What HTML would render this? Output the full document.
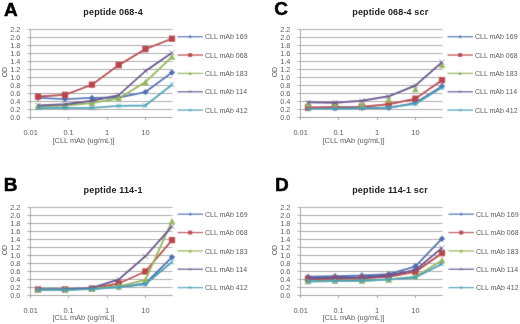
<!DOCTYPE html>
<html><head><meta charset="utf-8"><style>
html,body{margin:0;padding:0;background:#fff;width:520px;height:324px;overflow:hidden}
svg{display:block;font-family:"Liberation Sans",sans-serif;}
#w{width:520px;height:324px;will-change:transform}
</style></head><body>
<div id="w"><svg width="520" height="324" viewBox="0 0 520 324" style="font-family:&quot;Liberation Sans&quot;,sans-serif">
<defs><filter id="bl" x="0" y="0" width="1" height="1"><feConvolveMatrix order="3" kernelMatrix="1 2 1 2 20 2 1 2 1" edgeMode="duplicate"/></filter></defs>
<rect width="520" height="324" fill="#fff"/>
<g filter="url(#bl)">
<rect width="520" height="324" fill="#fff"/>
<g transform="translate(0,0)">
<line x1="27.5" y1="29.5" x2="172.5" y2="29.5" stroke="#a4a4a4" stroke-width="1"/>
<line x1="27.5" y1="37.5" x2="172.5" y2="37.5" stroke="#a4a4a4" stroke-width="1"/>
<line x1="27.5" y1="45.5" x2="172.5" y2="45.5" stroke="#a4a4a4" stroke-width="1"/>
<line x1="27.5" y1="53.5" x2="172.5" y2="53.5" stroke="#a4a4a4" stroke-width="1"/>
<line x1="27.5" y1="61.5" x2="172.5" y2="61.5" stroke="#a4a4a4" stroke-width="1"/>
<line x1="27.5" y1="69.5" x2="172.5" y2="69.5" stroke="#a4a4a4" stroke-width="1"/>
<line x1="27.5" y1="77.5" x2="172.5" y2="77.5" stroke="#a4a4a4" stroke-width="1"/>
<line x1="27.5" y1="85.5" x2="172.5" y2="85.5" stroke="#a4a4a4" stroke-width="1"/>
<line x1="27.5" y1="93.5" x2="172.5" y2="93.5" stroke="#a4a4a4" stroke-width="1"/>
<line x1="27.5" y1="101.5" x2="172.5" y2="101.5" stroke="#a4a4a4" stroke-width="1"/>
<line x1="27.5" y1="109.5" x2="172.5" y2="109.5" stroke="#a4a4a4" stroke-width="1"/>
<line x1="27.5" y1="117.5" x2="172.5" y2="117.5" stroke="#959595" stroke-width="1"/>
<line x1="30.5" y1="29.0" x2="30.5" y2="120.0" stroke="#a0a0a0" stroke-width="1"/>
<line x1="30.5" y1="117.5" x2="30.5" y2="120.0" stroke="#9a9a9a" stroke-width="1"/>
<line x1="68.5" y1="117.5" x2="68.5" y2="120.0" stroke="#9a9a9a" stroke-width="1"/>
<line x1="107.5" y1="117.5" x2="107.5" y2="120.0" stroke="#9a9a9a" stroke-width="1"/>
<line x1="145.5" y1="117.5" x2="145.5" y2="120.0" stroke="#9a9a9a" stroke-width="1"/>
<path d="M38.00 97.90 L65.00 99.10 L91.90 97.90 L118.70 97.50 L145.40 92.10 L172.00 72.50" stroke="#4A70B4" stroke-width="1.9" fill="none" stroke-linejoin="round"/>
<path d="M38.00 94.70L41.20 97.90L38.00 101.10L34.80 97.90Z" fill="#4A70B4"/>
<path d="M65.00 95.90L68.20 99.10L65.00 102.30L61.80 99.10Z" fill="#4A70B4"/>
<path d="M91.90 94.70L95.10 97.90L91.90 101.10L88.70 97.90Z" fill="#4A70B4"/>
<path d="M118.70 94.30L121.90 97.50L118.70 100.70L115.50 97.50Z" fill="#4A70B4"/>
<path d="M145.40 88.90L148.60 92.10L145.40 95.30L142.20 92.10Z" fill="#4A70B4"/>
<path d="M172.00 69.30L175.20 72.50L172.00 75.70L168.80 72.50Z" fill="#4A70B4"/>
<path d="M38.00 96.50 L65.00 94.90 L91.90 84.70 L118.70 65.10 L145.40 49.10 L172.00 38.70" stroke="#BC444C" stroke-width="1.9" fill="none" stroke-linejoin="round"/>
<rect x="34.80" y="93.30" width="6.40" height="6.40" fill="#BC444C"/>
<rect x="61.80" y="91.70" width="6.40" height="6.40" fill="#BC444C"/>
<rect x="88.70" y="81.50" width="6.40" height="6.40" fill="#BC444C"/>
<rect x="115.50" y="61.90" width="6.40" height="6.40" fill="#BC444C"/>
<rect x="142.20" y="45.90" width="6.40" height="6.40" fill="#BC444C"/>
<rect x="168.80" y="35.50" width="6.40" height="6.40" fill="#BC444C"/>
<path d="M38.00 106.30 L65.00 105.50 L91.90 103.10 L118.70 98.30 L145.40 82.10 L172.00 56.70" stroke="#97B855" stroke-width="1.9" fill="none" stroke-linejoin="round"/>
<path d="M38.00 102.83L41.30 109.44L34.70 109.44Z" fill="#97B855"/>
<path d="M65.00 102.03L68.30 108.64L61.70 108.64Z" fill="#97B855"/>
<path d="M91.90 99.64L95.20 106.24L88.60 106.24Z" fill="#97B855"/>
<path d="M118.70 94.83L122.00 101.44L115.40 101.44Z" fill="#97B855"/>
<path d="M145.40 78.63L148.70 85.23L142.10 85.23Z" fill="#97B855"/>
<path d="M172.00 53.23L175.30 59.84L168.70 59.84Z" fill="#97B855"/>
<path d="M38.00 105.50 L65.00 104.30 L91.90 100.70 L118.70 95.10 L145.40 71.10 L172.00 52.70" stroke="#67528F" stroke-width="1.9" fill="none" stroke-linejoin="round"/>
<path d="M35.40 102.90L40.60 108.10M40.60 102.90L35.40 108.10" stroke="#67528F" stroke-width="0.8" fill="none" opacity="0.8"/>
<path d="M62.40 101.70L67.60 106.90M67.60 101.70L62.40 106.90" stroke="#67528F" stroke-width="0.8" fill="none" opacity="0.8"/>
<path d="M89.30 98.10L94.50 103.30M94.50 98.10L89.30 103.30" stroke="#67528F" stroke-width="0.8" fill="none" opacity="0.8"/>
<path d="M116.10 92.50L121.30 97.70M121.30 92.50L116.10 97.70" stroke="#67528F" stroke-width="0.8" fill="none" opacity="0.8"/>
<path d="M142.80 68.50L148.00 73.70M148.00 68.50L142.80 73.70" stroke="#67528F" stroke-width="0.8" fill="none" opacity="0.8"/>
<path d="M169.40 50.10L174.60 55.30M174.60 50.10L169.40 55.30" stroke="#67528F" stroke-width="0.8" fill="none" opacity="0.8"/>
<path d="M38.00 108.10 L65.00 107.90 L91.90 107.90 L118.70 105.90 L145.40 105.50 L172.00 84.70" stroke="#42A2BA" stroke-width="1.9" fill="none" stroke-linejoin="round"/>
<path d="M35.40 105.50L40.60 110.70M40.60 105.50L35.40 110.70M38.00 105.50L38.00 110.70" stroke="#42A2BA" stroke-width="0.8" fill="none" opacity="0.8"/>
<path d="M62.40 105.30L67.60 110.50M67.60 105.30L62.40 110.50M65.00 105.30L65.00 110.50" stroke="#42A2BA" stroke-width="0.8" fill="none" opacity="0.8"/>
<path d="M89.30 105.30L94.50 110.50M94.50 105.30L89.30 110.50M91.90 105.30L91.90 110.50" stroke="#42A2BA" stroke-width="0.8" fill="none" opacity="0.8"/>
<path d="M116.10 103.30L121.30 108.50M121.30 103.30L116.10 108.50M118.70 103.30L118.70 108.50" stroke="#42A2BA" stroke-width="0.8" fill="none" opacity="0.8"/>
<path d="M142.80 102.90L148.00 108.10M148.00 102.90L142.80 108.10M145.40 102.90L145.40 108.10" stroke="#42A2BA" stroke-width="0.8" fill="none" opacity="0.8"/>
<path d="M169.40 82.10L174.60 87.30M174.60 82.10L169.40 87.30M172.00 82.10L172.00 87.30" stroke="#42A2BA" stroke-width="0.8" fill="none" opacity="0.8"/>
<line x1="177.5" y1="36.70" x2="203" y2="36.70" stroke="#4A70B4" stroke-width="1.3"/>
<path d="M190.20 34.94L191.96 36.70L190.20 38.46L188.44 36.70Z" fill="#4A70B4"/>
<line x1="177.5" y1="55.05" x2="203" y2="55.05" stroke="#BC444C" stroke-width="1.3"/>
<rect x="188.22" y="53.07" width="3.97" height="3.97" fill="#BC444C"/>
<line x1="177.5" y1="73.40" x2="203" y2="73.40" stroke="#97B855" stroke-width="1.3"/>
<path d="M190.20 71.49L192.01 75.12L188.38 75.12Z" fill="#97B855"/>
<line x1="177.5" y1="91.75" x2="203" y2="91.75" stroke="#67528F" stroke-width="1.3"/>
<path d="M188.90 90.45L191.50 93.05M191.50 90.45L188.90 93.05" stroke="#67528F" stroke-width="0.8" fill="none" opacity="0.8"/>
<line x1="177.5" y1="110.10" x2="203" y2="110.10" stroke="#42A2BA" stroke-width="1.3"/>
<path d="M188.90 108.80L191.50 111.40M191.50 108.80L188.90 111.40M190.20 108.80L190.20 111.40" stroke="#42A2BA" stroke-width="0.8" fill="none" opacity="0.8"/>
</g>
<g transform="translate(270,0)">
<line x1="27.5" y1="29.5" x2="172.5" y2="29.5" stroke="#a4a4a4" stroke-width="1"/>
<line x1="27.5" y1="37.5" x2="172.5" y2="37.5" stroke="#a4a4a4" stroke-width="1"/>
<line x1="27.5" y1="45.5" x2="172.5" y2="45.5" stroke="#a4a4a4" stroke-width="1"/>
<line x1="27.5" y1="53.5" x2="172.5" y2="53.5" stroke="#a4a4a4" stroke-width="1"/>
<line x1="27.5" y1="61.5" x2="172.5" y2="61.5" stroke="#a4a4a4" stroke-width="1"/>
<line x1="27.5" y1="69.5" x2="172.5" y2="69.5" stroke="#a4a4a4" stroke-width="1"/>
<line x1="27.5" y1="77.5" x2="172.5" y2="77.5" stroke="#a4a4a4" stroke-width="1"/>
<line x1="27.5" y1="85.5" x2="172.5" y2="85.5" stroke="#a4a4a4" stroke-width="1"/>
<line x1="27.5" y1="93.5" x2="172.5" y2="93.5" stroke="#a4a4a4" stroke-width="1"/>
<line x1="27.5" y1="101.5" x2="172.5" y2="101.5" stroke="#a4a4a4" stroke-width="1"/>
<line x1="27.5" y1="109.5" x2="172.5" y2="109.5" stroke="#a4a4a4" stroke-width="1"/>
<line x1="27.5" y1="117.5" x2="172.5" y2="117.5" stroke="#959595" stroke-width="1"/>
<line x1="30.5" y1="29.0" x2="30.5" y2="120.0" stroke="#a0a0a0" stroke-width="1"/>
<line x1="30.5" y1="117.5" x2="30.5" y2="120.0" stroke="#9a9a9a" stroke-width="1"/>
<line x1="68.5" y1="117.5" x2="68.5" y2="120.0" stroke="#9a9a9a" stroke-width="1"/>
<line x1="107.5" y1="117.5" x2="107.5" y2="120.0" stroke="#9a9a9a" stroke-width="1"/>
<line x1="145.5" y1="117.5" x2="145.5" y2="120.0" stroke="#9a9a9a" stroke-width="1"/>
<path d="M38.00 108.30 L65.00 108.10 L91.90 107.90 L118.70 107.90 L145.40 102.90 L172.00 86.30" stroke="#4A70B4" stroke-width="1.9" fill="none" stroke-linejoin="round"/>
<path d="M38.00 105.10L41.20 108.30L38.00 111.50L34.80 108.30Z" fill="#4A70B4"/>
<path d="M65.00 104.90L68.20 108.10L65.00 111.30L61.80 108.10Z" fill="#4A70B4"/>
<path d="M91.90 104.70L95.10 107.90L91.90 111.10L88.70 107.90Z" fill="#4A70B4"/>
<path d="M118.70 104.70L121.90 107.90L118.70 111.10L115.50 107.90Z" fill="#4A70B4"/>
<path d="M145.40 99.70L148.60 102.90L145.40 106.10L142.20 102.90Z" fill="#4A70B4"/>
<path d="M172.00 83.10L175.20 86.30L172.00 89.50L168.80 86.30Z" fill="#4A70B4"/>
<path d="M38.00 107.50 L65.00 106.90 L91.90 106.70 L118.70 104.30 L145.40 98.70 L172.00 80.10" stroke="#BC444C" stroke-width="1.9" fill="none" stroke-linejoin="round"/>
<rect x="34.80" y="104.30" width="6.40" height="6.40" fill="#BC444C"/>
<rect x="61.80" y="103.70" width="6.40" height="6.40" fill="#BC444C"/>
<rect x="88.70" y="103.50" width="6.40" height="6.40" fill="#BC444C"/>
<rect x="115.50" y="101.10" width="6.40" height="6.40" fill="#BC444C"/>
<rect x="142.20" y="95.50" width="6.40" height="6.40" fill="#BC444C"/>
<rect x="168.80" y="76.90" width="6.40" height="6.40" fill="#BC444C"/>
<path d="M38.00 100.03L41.30 106.64L34.70 106.64Z" fill="#97B855"/>
<path d="M65.00 100.03L68.30 106.64L61.70 106.64Z" fill="#97B855"/>
<path d="M91.90 100.83L95.20 107.44L88.60 107.44Z" fill="#97B855"/>
<path d="M118.70 96.03L122.00 102.64L115.40 102.64Z" fill="#97B855"/>
<path d="M145.40 85.64L148.70 92.24L142.10 92.24Z" fill="#97B855"/>
<path d="M172.00 61.63L175.30 68.23L168.70 68.23Z" fill="#97B855"/>
<path d="M38.00 102.30 L65.00 102.70 L91.90 100.70 L118.70 96.30 L145.40 85.50 L172.00 62.30" stroke="#67528F" stroke-width="1.9" fill="none" stroke-linejoin="round"/>
<path d="M35.40 99.70L40.60 104.90M40.60 99.70L35.40 104.90" stroke="#67528F" stroke-width="0.8" fill="none" opacity="0.8"/>
<path d="M62.40 100.10L67.60 105.30M67.60 100.10L62.40 105.30" stroke="#67528F" stroke-width="0.8" fill="none" opacity="0.8"/>
<path d="M89.30 98.10L94.50 103.30M94.50 98.10L89.30 103.30" stroke="#67528F" stroke-width="0.8" fill="none" opacity="0.8"/>
<path d="M116.10 93.70L121.30 98.90M121.30 93.70L116.10 98.90" stroke="#67528F" stroke-width="0.8" fill="none" opacity="0.8"/>
<path d="M142.80 82.90L148.00 88.10M148.00 82.90L142.80 88.10" stroke="#67528F" stroke-width="0.8" fill="none" opacity="0.8"/>
<path d="M169.40 59.70L174.60 64.90M174.60 59.70L169.40 64.90" stroke="#67528F" stroke-width="0.8" fill="none" opacity="0.8"/>
<path d="M38.00 108.90 L65.00 108.70 L91.90 108.30 L118.70 107.50 L145.40 103.90 L172.00 87.50" stroke="#42A2BA" stroke-width="1.9" fill="none" stroke-linejoin="round"/>
<path d="M35.40 106.30L40.60 111.50M40.60 106.30L35.40 111.50M38.00 106.30L38.00 111.50" stroke="#42A2BA" stroke-width="0.8" fill="none" opacity="0.8"/>
<path d="M62.40 106.10L67.60 111.30M67.60 106.10L62.40 111.30M65.00 106.10L65.00 111.30" stroke="#42A2BA" stroke-width="0.8" fill="none" opacity="0.8"/>
<path d="M89.30 105.70L94.50 110.90M94.50 105.70L89.30 110.90M91.90 105.70L91.90 110.90" stroke="#42A2BA" stroke-width="0.8" fill="none" opacity="0.8"/>
<path d="M116.10 104.90L121.30 110.10M121.30 104.90L116.10 110.10M118.70 104.90L118.70 110.10" stroke="#42A2BA" stroke-width="0.8" fill="none" opacity="0.8"/>
<path d="M142.80 101.30L148.00 106.50M148.00 101.30L142.80 106.50M145.40 101.30L145.40 106.50" stroke="#42A2BA" stroke-width="0.8" fill="none" opacity="0.8"/>
<path d="M169.40 84.90L174.60 90.10M174.60 84.90L169.40 90.10M172.00 84.90L172.00 90.10" stroke="#42A2BA" stroke-width="0.8" fill="none" opacity="0.8"/>
<line x1="177.5" y1="36.70" x2="203" y2="36.70" stroke="#4A70B4" stroke-width="1.3"/>
<path d="M190.20 34.94L191.96 36.70L190.20 38.46L188.44 36.70Z" fill="#4A70B4"/>
<line x1="177.5" y1="55.05" x2="203" y2="55.05" stroke="#BC444C" stroke-width="1.3"/>
<rect x="188.22" y="53.07" width="3.97" height="3.97" fill="#BC444C"/>
<line x1="177.5" y1="73.40" x2="203" y2="73.40" stroke="#97B855" stroke-width="1.3"/>
<path d="M190.20 71.49L192.01 75.12L188.38 75.12Z" fill="#97B855"/>
<line x1="177.5" y1="91.75" x2="203" y2="91.75" stroke="#67528F" stroke-width="1.3"/>
<path d="M188.90 90.45L191.50 93.05M191.50 90.45L188.90 93.05" stroke="#67528F" stroke-width="0.8" fill="none" opacity="0.8"/>
<line x1="177.5" y1="110.10" x2="203" y2="110.10" stroke="#42A2BA" stroke-width="1.3"/>
<path d="M188.90 108.80L191.50 111.40M191.50 108.80L188.90 111.40M190.20 108.80L190.20 111.40" stroke="#42A2BA" stroke-width="0.8" fill="none" opacity="0.8"/>
</g>
<g transform="translate(0,178)">
<line x1="27.5" y1="29.5" x2="172.5" y2="29.5" stroke="#a4a4a4" stroke-width="1"/>
<line x1="27.5" y1="37.5" x2="172.5" y2="37.5" stroke="#a4a4a4" stroke-width="1"/>
<line x1="27.5" y1="45.5" x2="172.5" y2="45.5" stroke="#a4a4a4" stroke-width="1"/>
<line x1="27.5" y1="53.5" x2="172.5" y2="53.5" stroke="#a4a4a4" stroke-width="1"/>
<line x1="27.5" y1="61.5" x2="172.5" y2="61.5" stroke="#a4a4a4" stroke-width="1"/>
<line x1="27.5" y1="69.5" x2="172.5" y2="69.5" stroke="#a4a4a4" stroke-width="1"/>
<line x1="27.5" y1="77.5" x2="172.5" y2="77.5" stroke="#a4a4a4" stroke-width="1"/>
<line x1="27.5" y1="85.5" x2="172.5" y2="85.5" stroke="#a4a4a4" stroke-width="1"/>
<line x1="27.5" y1="93.5" x2="172.5" y2="93.5" stroke="#a4a4a4" stroke-width="1"/>
<line x1="27.5" y1="101.5" x2="172.5" y2="101.5" stroke="#a4a4a4" stroke-width="1"/>
<line x1="27.5" y1="109.5" x2="172.5" y2="109.5" stroke="#a4a4a4" stroke-width="1"/>
<line x1="27.5" y1="117.5" x2="172.5" y2="117.5" stroke="#959595" stroke-width="1"/>
<line x1="30.5" y1="29.0" x2="30.5" y2="120.0" stroke="#a0a0a0" stroke-width="1"/>
<line x1="30.5" y1="117.5" x2="30.5" y2="120.0" stroke="#9a9a9a" stroke-width="1"/>
<line x1="68.5" y1="117.5" x2="68.5" y2="120.0" stroke="#9a9a9a" stroke-width="1"/>
<line x1="107.5" y1="117.5" x2="107.5" y2="120.0" stroke="#9a9a9a" stroke-width="1"/>
<line x1="145.5" y1="117.5" x2="145.5" y2="120.0" stroke="#9a9a9a" stroke-width="1"/>
<path d="M38.00 111.50 L65.00 111.50 L91.90 110.70 L118.70 109.10 L145.40 105.50 L172.00 79.10" stroke="#4A70B4" stroke-width="1.9" fill="none" stroke-linejoin="round"/>
<path d="M38.00 108.30L41.20 111.50L38.00 114.70L34.80 111.50Z" fill="#4A70B4"/>
<path d="M65.00 108.30L68.20 111.50L65.00 114.70L61.80 111.50Z" fill="#4A70B4"/>
<path d="M91.90 107.50L95.10 110.70L91.90 113.90L88.70 110.70Z" fill="#4A70B4"/>
<path d="M118.70 105.90L121.90 109.10L118.70 112.30L115.50 109.10Z" fill="#4A70B4"/>
<path d="M145.40 102.30L148.60 105.50L145.40 108.70L142.20 105.50Z" fill="#4A70B4"/>
<path d="M172.00 75.90L175.20 79.10L172.00 82.30L168.80 79.10Z" fill="#4A70B4"/>
<path d="M38.00 111.50 L65.00 111.50 L91.90 110.50 L118.70 105.50 L145.40 93.50 L172.00 62.10" stroke="#BC444C" stroke-width="1.9" fill="none" stroke-linejoin="round"/>
<rect x="34.80" y="108.30" width="6.40" height="6.40" fill="#BC444C"/>
<rect x="61.80" y="108.30" width="6.40" height="6.40" fill="#BC444C"/>
<rect x="88.70" y="107.30" width="6.40" height="6.40" fill="#BC444C"/>
<rect x="115.50" y="102.30" width="6.40" height="6.40" fill="#BC444C"/>
<rect x="142.20" y="90.30" width="6.40" height="6.40" fill="#BC444C"/>
<rect x="168.80" y="58.90" width="6.40" height="6.40" fill="#BC444C"/>
<path d="M38.00 111.70 L65.00 111.50 L91.90 110.70 L118.70 108.30 L145.40 101.90 L172.00 43.10" stroke="#97B855" stroke-width="1.9" fill="none" stroke-linejoin="round"/>
<path d="M38.00 108.23L41.30 114.84L34.70 114.84Z" fill="#97B855"/>
<path d="M65.00 108.03L68.30 114.64L61.70 114.64Z" fill="#97B855"/>
<path d="M91.90 107.23L95.20 113.84L88.60 113.84Z" fill="#97B855"/>
<path d="M118.70 104.83L122.00 111.44L115.40 111.44Z" fill="#97B855"/>
<path d="M145.40 98.43L148.70 105.03L142.10 105.03Z" fill="#97B855"/>
<path d="M172.00 39.64L175.30 46.23L168.70 46.23Z" fill="#97B855"/>
<path d="M38.00 111.50 L65.00 111.10 L91.90 109.90 L118.70 101.50 L145.40 78.30 L172.00 48.30" stroke="#67528F" stroke-width="1.9" fill="none" stroke-linejoin="round"/>
<path d="M35.40 108.90L40.60 114.10M40.60 108.90L35.40 114.10" stroke="#67528F" stroke-width="0.8" fill="none" opacity="0.8"/>
<path d="M62.40 108.50L67.60 113.70M67.60 108.50L62.40 113.70" stroke="#67528F" stroke-width="0.8" fill="none" opacity="0.8"/>
<path d="M89.30 107.30L94.50 112.50M94.50 107.30L89.30 112.50" stroke="#67528F" stroke-width="0.8" fill="none" opacity="0.8"/>
<path d="M116.10 98.90L121.30 104.10M121.30 98.90L116.10 104.10" stroke="#67528F" stroke-width="0.8" fill="none" opacity="0.8"/>
<path d="M142.80 75.70L148.00 80.90M148.00 75.70L142.80 80.90" stroke="#67528F" stroke-width="0.8" fill="none" opacity="0.8"/>
<path d="M169.40 45.70L174.60 50.90M174.60 45.70L169.40 50.90" stroke="#67528F" stroke-width="0.8" fill="none" opacity="0.8"/>
<path d="M38.00 111.70 L65.00 111.70 L91.90 111.10 L118.70 109.10 L145.40 106.30 L172.00 83.90" stroke="#42A2BA" stroke-width="1.9" fill="none" stroke-linejoin="round"/>
<path d="M35.40 109.10L40.60 114.30M40.60 109.10L35.40 114.30M38.00 109.10L38.00 114.30" stroke="#42A2BA" stroke-width="0.8" fill="none" opacity="0.8"/>
<path d="M62.40 109.10L67.60 114.30M67.60 109.10L62.40 114.30M65.00 109.10L65.00 114.30" stroke="#42A2BA" stroke-width="0.8" fill="none" opacity="0.8"/>
<path d="M89.30 108.50L94.50 113.70M94.50 108.50L89.30 113.70M91.90 108.50L91.90 113.70" stroke="#42A2BA" stroke-width="0.8" fill="none" opacity="0.8"/>
<path d="M116.10 106.50L121.30 111.70M121.30 106.50L116.10 111.70M118.70 106.50L118.70 111.70" stroke="#42A2BA" stroke-width="0.8" fill="none" opacity="0.8"/>
<path d="M142.80 103.70L148.00 108.90M148.00 103.70L142.80 108.90M145.40 103.70L145.40 108.90" stroke="#42A2BA" stroke-width="0.8" fill="none" opacity="0.8"/>
<path d="M169.40 81.30L174.60 86.50M174.60 81.30L169.40 86.50M172.00 81.30L172.00 86.50" stroke="#42A2BA" stroke-width="0.8" fill="none" opacity="0.8"/>
<line x1="177.5" y1="36.20" x2="203" y2="36.20" stroke="#4A70B4" stroke-width="1.3"/>
<path d="M190.20 34.44L191.96 36.20L190.20 37.96L188.44 36.20Z" fill="#4A70B4"/>
<line x1="177.5" y1="54.55" x2="203" y2="54.55" stroke="#BC444C" stroke-width="1.3"/>
<rect x="188.22" y="52.57" width="3.97" height="3.97" fill="#BC444C"/>
<line x1="177.5" y1="72.90" x2="203" y2="72.90" stroke="#97B855" stroke-width="1.3"/>
<path d="M190.20 70.99L192.01 74.62L188.38 74.62Z" fill="#97B855"/>
<line x1="177.5" y1="91.25" x2="203" y2="91.25" stroke="#67528F" stroke-width="1.3"/>
<path d="M188.90 89.95L191.50 92.55M191.50 89.95L188.90 92.55" stroke="#67528F" stroke-width="0.8" fill="none" opacity="0.8"/>
<line x1="177.5" y1="109.60" x2="203" y2="109.60" stroke="#42A2BA" stroke-width="1.3"/>
<path d="M188.90 108.30L191.50 110.90M191.50 108.30L188.90 110.90M190.20 108.30L190.20 110.90" stroke="#42A2BA" stroke-width="0.8" fill="none" opacity="0.8"/>
</g>
<g transform="translate(270,178)">
<line x1="27.5" y1="29.5" x2="172.5" y2="29.5" stroke="#a4a4a4" stroke-width="1"/>
<line x1="27.5" y1="37.5" x2="172.5" y2="37.5" stroke="#a4a4a4" stroke-width="1"/>
<line x1="27.5" y1="45.5" x2="172.5" y2="45.5" stroke="#a4a4a4" stroke-width="1"/>
<line x1="27.5" y1="53.5" x2="172.5" y2="53.5" stroke="#a4a4a4" stroke-width="1"/>
<line x1="27.5" y1="61.5" x2="172.5" y2="61.5" stroke="#a4a4a4" stroke-width="1"/>
<line x1="27.5" y1="69.5" x2="172.5" y2="69.5" stroke="#a4a4a4" stroke-width="1"/>
<line x1="27.5" y1="77.5" x2="172.5" y2="77.5" stroke="#a4a4a4" stroke-width="1"/>
<line x1="27.5" y1="85.5" x2="172.5" y2="85.5" stroke="#a4a4a4" stroke-width="1"/>
<line x1="27.5" y1="93.5" x2="172.5" y2="93.5" stroke="#a4a4a4" stroke-width="1"/>
<line x1="27.5" y1="101.5" x2="172.5" y2="101.5" stroke="#a4a4a4" stroke-width="1"/>
<line x1="27.5" y1="109.5" x2="172.5" y2="109.5" stroke="#a4a4a4" stroke-width="1"/>
<line x1="27.5" y1="117.5" x2="172.5" y2="117.5" stroke="#959595" stroke-width="1"/>
<line x1="30.5" y1="29.0" x2="30.5" y2="120.0" stroke="#a0a0a0" stroke-width="1"/>
<line x1="30.5" y1="117.5" x2="30.5" y2="120.0" stroke="#9a9a9a" stroke-width="1"/>
<line x1="68.5" y1="117.5" x2="68.5" y2="120.0" stroke="#9a9a9a" stroke-width="1"/>
<line x1="107.5" y1="117.5" x2="107.5" y2="120.0" stroke="#9a9a9a" stroke-width="1"/>
<line x1="145.5" y1="117.5" x2="145.5" y2="120.0" stroke="#9a9a9a" stroke-width="1"/>
<path d="M38.00 98.70 L65.00 98.30 L91.90 97.50 L118.70 96.10 L145.40 88.30 L172.00 60.70" stroke="#4A70B4" stroke-width="1.9" fill="none" stroke-linejoin="round"/>
<path d="M38.00 95.50L41.20 98.70L38.00 101.90L34.80 98.70Z" fill="#4A70B4"/>
<path d="M65.00 95.10L68.20 98.30L65.00 101.50L61.80 98.30Z" fill="#4A70B4"/>
<path d="M91.90 94.30L95.10 97.50L91.90 100.70L88.70 97.50Z" fill="#4A70B4"/>
<path d="M118.70 92.90L121.90 96.10L118.70 99.30L115.50 96.10Z" fill="#4A70B4"/>
<path d="M145.40 85.10L148.60 88.30L145.40 91.50L142.20 88.30Z" fill="#4A70B4"/>
<path d="M172.00 57.50L175.20 60.70L172.00 63.90L168.80 60.70Z" fill="#4A70B4"/>
<path d="M38.00 101.10 L65.00 100.70 L91.90 100.30 L118.70 98.70 L145.40 93.90 L172.00 75.10" stroke="#BC444C" stroke-width="1.9" fill="none" stroke-linejoin="round"/>
<rect x="34.80" y="97.90" width="6.40" height="6.40" fill="#BC444C"/>
<rect x="61.80" y="97.50" width="6.40" height="6.40" fill="#BC444C"/>
<rect x="88.70" y="97.10" width="6.40" height="6.40" fill="#BC444C"/>
<rect x="115.50" y="95.50" width="6.40" height="6.40" fill="#BC444C"/>
<rect x="142.20" y="90.70" width="6.40" height="6.40" fill="#BC444C"/>
<rect x="168.80" y="71.90" width="6.40" height="6.40" fill="#BC444C"/>
<path d="M38.00 103.10 L65.00 102.70 L91.90 102.70 L118.70 101.50 L145.40 98.70 L172.00 82.30" stroke="#97B855" stroke-width="1.9" fill="none" stroke-linejoin="round"/>
<path d="M38.00 99.64L41.30 106.24L34.70 106.24Z" fill="#97B855"/>
<path d="M65.00 99.23L68.30 105.84L61.70 105.84Z" fill="#97B855"/>
<path d="M91.90 99.23L95.20 105.84L88.60 105.84Z" fill="#97B855"/>
<path d="M118.70 98.03L122.00 104.64L115.40 104.64Z" fill="#97B855"/>
<path d="M145.40 95.23L148.70 101.84L142.10 101.84Z" fill="#97B855"/>
<path d="M172.00 78.84L175.30 85.44L168.70 85.44Z" fill="#97B855"/>
<path d="M38.00 100.30 L65.00 99.90 L91.90 99.50 L118.70 97.50 L145.40 91.90 L172.00 69.90" stroke="#67528F" stroke-width="1.9" fill="none" stroke-linejoin="round"/>
<path d="M35.40 97.70L40.60 102.90M40.60 97.70L35.40 102.90" stroke="#67528F" stroke-width="0.8" fill="none" opacity="0.8"/>
<path d="M62.40 97.30L67.60 102.50M67.60 97.30L62.40 102.50" stroke="#67528F" stroke-width="0.8" fill="none" opacity="0.8"/>
<path d="M89.30 96.90L94.50 102.10M94.50 96.90L89.30 102.10" stroke="#67528F" stroke-width="0.8" fill="none" opacity="0.8"/>
<path d="M116.10 94.90L121.30 100.10M121.30 94.90L116.10 100.10" stroke="#67528F" stroke-width="0.8" fill="none" opacity="0.8"/>
<path d="M142.80 89.30L148.00 94.50M148.00 89.30L142.80 94.50" stroke="#67528F" stroke-width="0.8" fill="none" opacity="0.8"/>
<path d="M169.40 67.30L174.60 72.50M174.60 67.30L169.40 72.50" stroke="#67528F" stroke-width="0.8" fill="none" opacity="0.8"/>
<path d="M38.00 103.50 L65.00 103.10 L91.90 102.70 L118.70 101.50 L145.40 99.50 L172.00 85.90" stroke="#42A2BA" stroke-width="1.9" fill="none" stroke-linejoin="round"/>
<path d="M35.40 100.90L40.60 106.10M40.60 100.90L35.40 106.10M38.00 100.90L38.00 106.10" stroke="#42A2BA" stroke-width="0.8" fill="none" opacity="0.8"/>
<path d="M62.40 100.50L67.60 105.70M67.60 100.50L62.40 105.70M65.00 100.50L65.00 105.70" stroke="#42A2BA" stroke-width="0.8" fill="none" opacity="0.8"/>
<path d="M89.30 100.10L94.50 105.30M94.50 100.10L89.30 105.30M91.90 100.10L91.90 105.30" stroke="#42A2BA" stroke-width="0.8" fill="none" opacity="0.8"/>
<path d="M116.10 98.90L121.30 104.10M121.30 98.90L116.10 104.10M118.70 98.90L118.70 104.10" stroke="#42A2BA" stroke-width="0.8" fill="none" opacity="0.8"/>
<path d="M142.80 96.90L148.00 102.10M148.00 96.90L142.80 102.10M145.40 96.90L145.40 102.10" stroke="#42A2BA" stroke-width="0.8" fill="none" opacity="0.8"/>
<path d="M169.40 83.30L174.60 88.50M174.60 83.30L169.40 88.50M172.00 83.30L172.00 88.50" stroke="#42A2BA" stroke-width="0.8" fill="none" opacity="0.8"/>
<line x1="178.5" y1="36.20" x2="204" y2="36.20" stroke="#4A70B4" stroke-width="1.3"/>
<path d="M191.20 34.44L192.96 36.20L191.20 37.96L189.44 36.20Z" fill="#4A70B4"/>
<line x1="178.5" y1="54.55" x2="204" y2="54.55" stroke="#BC444C" stroke-width="1.3"/>
<rect x="189.22" y="52.57" width="3.97" height="3.97" fill="#BC444C"/>
<line x1="178.5" y1="72.90" x2="204" y2="72.90" stroke="#97B855" stroke-width="1.3"/>
<path d="M191.20 70.99L193.01 74.62L189.38 74.62Z" fill="#97B855"/>
<line x1="178.5" y1="91.25" x2="204" y2="91.25" stroke="#67528F" stroke-width="1.3"/>
<path d="M189.90 89.95L192.50 92.55M192.50 89.95L189.90 92.55" stroke="#67528F" stroke-width="0.8" fill="none" opacity="0.8"/>
<line x1="178.5" y1="109.60" x2="204" y2="109.60" stroke="#42A2BA" stroke-width="1.3"/>
<path d="M189.90 108.30L192.50 110.90M192.50 108.30L189.90 110.90M191.20 108.30L191.20 110.90" stroke="#42A2BA" stroke-width="0.8" fill="none" opacity="0.8"/>
</g>
</g>
<g transform="translate(0,0)">
<text x="20.3" y="32.1" text-anchor="end" font-size="7.3" fill="#5c5c5c">2.2</text>
<text x="20.3" y="40.1" text-anchor="end" font-size="7.3" fill="#5c5c5c">2.0</text>
<text x="20.3" y="48.1" text-anchor="end" font-size="7.3" fill="#5c5c5c">1.8</text>
<text x="20.3" y="56.1" text-anchor="end" font-size="7.3" fill="#5c5c5c">1.6</text>
<text x="20.3" y="64.1" text-anchor="end" font-size="7.3" fill="#5c5c5c">1.4</text>
<text x="20.3" y="72.1" text-anchor="end" font-size="7.3" fill="#5c5c5c">1.2</text>
<text x="20.3" y="80.1" text-anchor="end" font-size="7.3" fill="#5c5c5c">1.0</text>
<text x="20.3" y="88.1" text-anchor="end" font-size="7.3" fill="#5c5c5c">0.8</text>
<text x="20.3" y="96.1" text-anchor="end" font-size="7.3" fill="#5c5c5c">0.6</text>
<text x="20.3" y="104.1" text-anchor="end" font-size="7.3" fill="#5c5c5c">0.4</text>
<text x="20.3" y="112.1" text-anchor="end" font-size="7.3" fill="#5c5c5c">0.2</text>
<text x="20.3" y="120.1" text-anchor="end" font-size="7.3" fill="#5c5c5c">0.0</text>
<text transform="translate(7.3,72.1) rotate(-90)" text-anchor="middle" font-size="6.9" fill="#5c5c5c">OD</text>
<text x="30.6" y="135.4" text-anchor="middle" font-size="7.4" fill="#5c5c5c">0.01</text>
<text x="68.6" y="135.4" text-anchor="middle" font-size="7.4" fill="#5c5c5c">0.1</text>
<text x="107.0" y="135.4" text-anchor="middle" font-size="7.4" fill="#5c5c5c">1</text>
<text x="145.4" y="135.4" text-anchor="middle" font-size="7.4" fill="#5c5c5c">10</text>
<text x="83.6" y="142.7" text-anchor="middle" font-size="7.4" fill="#5c5c5c">[CLL mAb (ug/mL)]</text>
<text x="113.1" y="15.25" text-anchor="middle" font-size="9" letter-spacing="0.15" font-weight="bold" fill="#222">peptide 068-4</text>
<text x="205" y="39.30" font-size="7" fill="#5a5a5a">CLL mAb 169</text>
<text x="205" y="57.65" font-size="7" fill="#5a5a5a">CLL mAb 068</text>
<text x="205" y="76.00" font-size="7" fill="#5a5a5a">CLL mAb 183</text>
<text x="205" y="94.35" font-size="7" fill="#5a5a5a">CLL mAb 114</text>
<text x="205" y="112.70" font-size="7" fill="#5a5a5a">CLL mAb 412</text>
</g>
<text x="4" y="16.3" font-size="19" font-weight="bold" fill="#000" stroke="#000" stroke-width="0.5">A</text>
<g transform="translate(270,0)">
<text x="20.3" y="32.1" text-anchor="end" font-size="7.3" fill="#5c5c5c">2.2</text>
<text x="20.3" y="40.1" text-anchor="end" font-size="7.3" fill="#5c5c5c">2.0</text>
<text x="20.3" y="48.1" text-anchor="end" font-size="7.3" fill="#5c5c5c">1.8</text>
<text x="20.3" y="56.1" text-anchor="end" font-size="7.3" fill="#5c5c5c">1.6</text>
<text x="20.3" y="64.1" text-anchor="end" font-size="7.3" fill="#5c5c5c">1.4</text>
<text x="20.3" y="72.1" text-anchor="end" font-size="7.3" fill="#5c5c5c">1.2</text>
<text x="20.3" y="80.1" text-anchor="end" font-size="7.3" fill="#5c5c5c">1.0</text>
<text x="20.3" y="88.1" text-anchor="end" font-size="7.3" fill="#5c5c5c">0.8</text>
<text x="20.3" y="96.1" text-anchor="end" font-size="7.3" fill="#5c5c5c">0.6</text>
<text x="20.3" y="104.1" text-anchor="end" font-size="7.3" fill="#5c5c5c">0.4</text>
<text x="20.3" y="112.1" text-anchor="end" font-size="7.3" fill="#5c5c5c">0.2</text>
<text x="20.3" y="120.1" text-anchor="end" font-size="7.3" fill="#5c5c5c">0.0</text>
<text transform="translate(7.3,72.1) rotate(-90)" text-anchor="middle" font-size="6.9" fill="#5c5c5c">OD</text>
<text x="30.6" y="135.4" text-anchor="middle" font-size="7.4" fill="#5c5c5c">0.01</text>
<text x="68.6" y="135.4" text-anchor="middle" font-size="7.4" fill="#5c5c5c">0.1</text>
<text x="107.0" y="135.4" text-anchor="middle" font-size="7.4" fill="#5c5c5c">1</text>
<text x="145.4" y="135.4" text-anchor="middle" font-size="7.4" fill="#5c5c5c">10</text>
<text x="83.6" y="142.7" text-anchor="middle" font-size="7.4" fill="#5c5c5c">[CLL mAb (ug/mL)]</text>
<text x="120.3" y="15.25" text-anchor="middle" font-size="9" letter-spacing="0.15" font-weight="bold" fill="#222">peptide 068-4 scr</text>
<text x="205" y="39.30" font-size="7" fill="#5a5a5a">CLL mAb 169</text>
<text x="205" y="57.65" font-size="7" fill="#5a5a5a">CLL mAb 068</text>
<text x="205" y="76.00" font-size="7" fill="#5a5a5a">CLL mAb 183</text>
<text x="205" y="94.35" font-size="7" fill="#5a5a5a">CLL mAb 114</text>
<text x="205" y="112.70" font-size="7" fill="#5a5a5a">CLL mAb 412</text>
</g>
<text x="274.2" y="15.3" font-size="19" font-weight="bold" fill="#000" stroke="#000" stroke-width="0.5">C</text>
<g transform="translate(0,178)">
<text x="20.3" y="32.1" text-anchor="end" font-size="7.3" fill="#5c5c5c">2.2</text>
<text x="20.3" y="40.1" text-anchor="end" font-size="7.3" fill="#5c5c5c">2.0</text>
<text x="20.3" y="48.1" text-anchor="end" font-size="7.3" fill="#5c5c5c">1.8</text>
<text x="20.3" y="56.1" text-anchor="end" font-size="7.3" fill="#5c5c5c">1.6</text>
<text x="20.3" y="64.1" text-anchor="end" font-size="7.3" fill="#5c5c5c">1.4</text>
<text x="20.3" y="72.1" text-anchor="end" font-size="7.3" fill="#5c5c5c">1.2</text>
<text x="20.3" y="80.1" text-anchor="end" font-size="7.3" fill="#5c5c5c">1.0</text>
<text x="20.3" y="88.1" text-anchor="end" font-size="7.3" fill="#5c5c5c">0.8</text>
<text x="20.3" y="96.1" text-anchor="end" font-size="7.3" fill="#5c5c5c">0.6</text>
<text x="20.3" y="104.1" text-anchor="end" font-size="7.3" fill="#5c5c5c">0.4</text>
<text x="20.3" y="112.1" text-anchor="end" font-size="7.3" fill="#5c5c5c">0.2</text>
<text x="20.3" y="120.1" text-anchor="end" font-size="7.3" fill="#5c5c5c">0.0</text>
<text transform="translate(7.3,72.1) rotate(-90)" text-anchor="middle" font-size="6.9" fill="#5c5c5c">OD</text>
<text x="30.6" y="135.4" text-anchor="middle" font-size="7.4" fill="#5c5c5c">0.01</text>
<text x="68.6" y="135.4" text-anchor="middle" font-size="7.4" fill="#5c5c5c">0.1</text>
<text x="107.0" y="135.4" text-anchor="middle" font-size="7.4" fill="#5c5c5c">1</text>
<text x="145.4" y="135.4" text-anchor="middle" font-size="7.4" fill="#5c5c5c">10</text>
<text x="83.6" y="142.1" text-anchor="middle" font-size="7.4" fill="#5c5c5c">[CLL mAb (ug/mL)]</text>
<text x="113.1" y="15.25" text-anchor="middle" font-size="9" letter-spacing="0.15" font-weight="bold" fill="#222">peptide 114-1</text>
<text x="205" y="38.80" font-size="7" fill="#5a5a5a">CLL mAb 169</text>
<text x="205" y="57.15" font-size="7" fill="#5a5a5a">CLL mAb 068</text>
<text x="205" y="75.50" font-size="7" fill="#5a5a5a">CLL mAb 183</text>
<text x="205" y="93.85" font-size="7" fill="#5a5a5a">CLL mAb 114</text>
<text x="205" y="112.20" font-size="7" fill="#5a5a5a">CLL mAb 412</text>
</g>
<text x="3.8" y="191.0" font-size="19" font-weight="bold" fill="#000" stroke="#000" stroke-width="0.5">B</text>
<g transform="translate(270,178)">
<text x="20.3" y="32.1" text-anchor="end" font-size="7.3" fill="#5c5c5c">2.2</text>
<text x="20.3" y="40.1" text-anchor="end" font-size="7.3" fill="#5c5c5c">2.0</text>
<text x="20.3" y="48.1" text-anchor="end" font-size="7.3" fill="#5c5c5c">1.8</text>
<text x="20.3" y="56.1" text-anchor="end" font-size="7.3" fill="#5c5c5c">1.6</text>
<text x="20.3" y="64.1" text-anchor="end" font-size="7.3" fill="#5c5c5c">1.4</text>
<text x="20.3" y="72.1" text-anchor="end" font-size="7.3" fill="#5c5c5c">1.2</text>
<text x="20.3" y="80.1" text-anchor="end" font-size="7.3" fill="#5c5c5c">1.0</text>
<text x="20.3" y="88.1" text-anchor="end" font-size="7.3" fill="#5c5c5c">0.8</text>
<text x="20.3" y="96.1" text-anchor="end" font-size="7.3" fill="#5c5c5c">0.6</text>
<text x="20.3" y="104.1" text-anchor="end" font-size="7.3" fill="#5c5c5c">0.4</text>
<text x="20.3" y="112.1" text-anchor="end" font-size="7.3" fill="#5c5c5c">0.2</text>
<text x="20.3" y="120.1" text-anchor="end" font-size="7.3" fill="#5c5c5c">0.0</text>
<text transform="translate(7.3,72.1) rotate(-90)" text-anchor="middle" font-size="6.9" fill="#5c5c5c">OD</text>
<text x="30.6" y="135.4" text-anchor="middle" font-size="7.4" fill="#5c5c5c">0.01</text>
<text x="68.6" y="135.4" text-anchor="middle" font-size="7.4" fill="#5c5c5c">0.1</text>
<text x="107.0" y="135.4" text-anchor="middle" font-size="7.4" fill="#5c5c5c">1</text>
<text x="145.4" y="135.4" text-anchor="middle" font-size="7.4" fill="#5c5c5c">10</text>
<text x="83.6" y="142.1" text-anchor="middle" font-size="7.4" fill="#5c5c5c">[CLL mAb (ug/mL)]</text>
<text x="120.0" y="15.25" text-anchor="middle" font-size="9" letter-spacing="0.15" font-weight="bold" fill="#222">peptide 114-1 scr</text>
<text x="206" y="38.80" font-size="7" fill="#5a5a5a">CLL mAb 169</text>
<text x="206" y="57.15" font-size="7" fill="#5a5a5a">CLL mAb 068</text>
<text x="206" y="75.50" font-size="7" fill="#5a5a5a">CLL mAb 183</text>
<text x="206" y="93.85" font-size="7" fill="#5a5a5a">CLL mAb 114</text>
<text x="206" y="112.20" font-size="7" fill="#5a5a5a">CLL mAb 412</text>
</g>
<text x="275" y="191.3" font-size="19" font-weight="bold" fill="#000" stroke="#000" stroke-width="0.5">D</text>
</svg></div>
</body></html>
